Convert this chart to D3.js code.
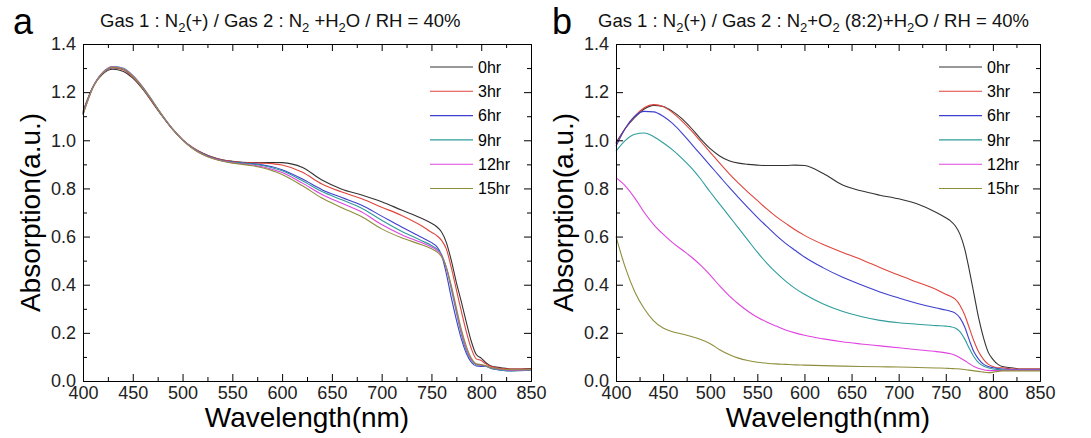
<!DOCTYPE html>
<html>
<head>
<meta charset="utf-8">
<script src="https://cdn.jsdelivr.net/npm/d3@7"></script>
<style>
  body { margin: 0; background: #fff; }
  svg { font-family: "Liberation Sans", Arial, sans-serif; }
  .axis path, .axis line { stroke: #000; }
  .axis text { font-size: 18px; fill: #222; }
</style>
</head>
<body>
<svg width="1091" height="438"></svg>
<script>
(function(d3) {
  'use strict';

  // wavelength grid (nm), shared by all curves
  const wavelengths = [400, 410, 420, 430, 440, 450, 460, 470, 480, 490, 500, 510, 520, 530, 540, 550,
    560, 570, 580, 590, 600, 620, 640, 660, 680, 700, 720, 740, 750, 755, 760, 765, 770, 775, 780,
    785, 790, 795, 800, 805, 810, 820, 830, 840, 850];

  const hours = ['0hr', '3hr', '6hr', '9hr', '12hr', '15hr'];
  const colors = ['#333333', '#e0443c', '#3f3fcf', '#2f9c9c', '#e044e0', '#8e8e3c'];

  // panel a : N2 + H2O
  const a0 = [1.12, 1.222, 1.276, 1.295, 1.287, 1.258, 1.212, 1.155, 1.098, 1.045, 1.002, 0.970, 0.947, 0.930, 0.919, 0.913,
    0.909, 0.907, 0.907, 0.908, 0.907, 0.888, 0.835, 0.797, 0.773, 0.745, 0.710, 0.676, 0.655, 0.642, 0.62, 0.575, 0.5, 0.41, 0.33,
    0.245, 0.165, 0.11, 0.095, 0.075, 0.062, 0.055, 0.05, 0.05, 0.052];
  const a3 = [1.115, 1.222, 1.28, 1.300, 1.293, 1.262, 1.215, 1.157, 1.1, 1.046, 1.003, 0.970, 0.946, 0.929, 0.918, 0.912,
    0.908, 0.906, 0.905, 0.903, 0.897, 0.868, 0.818, 0.785, 0.757, 0.722, 0.688, 0.645, 0.618, 0.605, 0.585, 0.548, 0.47, 0.38, 0.29,
    0.205, 0.135, 0.092, 0.085, 0.07, 0.06, 0.052, 0.05, 0.05, 0.05];
  const a6 = [1.112, 1.22, 1.28, 1.302, 1.296, 1.266, 1.218, 1.16, 1.1, 1.046, 1.002, 0.968, 0.944, 0.927, 0.916, 0.91,
    0.906, 0.903, 0.898, 0.89, 0.878, 0.84, 0.795, 0.762, 0.73, 0.685, 0.64, 0.597, 0.575, 0.56, 0.525, 0.445, 0.345, 0.255, 0.175,
    0.115, 0.078, 0.062, 0.06, 0.06, 0.052, 0.045, 0.042, 0.045, 0.045];
  const a9 = [1.11, 1.222, 1.283, 1.306, 1.3, 1.27, 1.222, 1.163, 1.103, 1.048, 1.003, 0.968, 0.943, 0.926, 0.915, 0.909,
    0.905, 0.901, 0.895, 0.886, 0.873, 0.833, 0.787, 0.753, 0.718, 0.668, 0.622, 0.583, 0.563, 0.55, 0.527, 0.47, 0.38, 0.285, 0.195,
    0.125, 0.085, 0.067, 0.065, 0.06, 0.052, 0.045, 0.042, 0.043, 0.045];
  const a12 = [1.108, 1.22, 1.282, 1.305, 1.298, 1.268, 1.22, 1.161, 1.101, 1.047, 1.002, 0.967, 0.942, 0.925, 0.914, 0.907,
    0.902, 0.897, 0.89, 0.88, 0.866, 0.823, 0.775, 0.738, 0.702, 0.65, 0.608, 0.575, 0.557, 0.545, 0.522, 0.47, 0.39, 0.295, 0.205,
    0.135, 0.09, 0.07, 0.066, 0.062, 0.055, 0.048, 0.045, 0.045, 0.047];
  const a15 = [1.105, 1.218, 1.28, 1.303, 1.296, 1.266, 1.218, 1.16, 1.1, 1.046, 1.001, 0.966, 0.941, 0.924, 0.913, 0.905,
    0.9, 0.894, 0.886, 0.874, 0.858, 0.812, 0.76, 0.72, 0.682, 0.632, 0.595, 0.566, 0.549, 0.538, 0.517, 0.472, 0.395, 0.305, 0.215,
    0.145, 0.095, 0.072, 0.068, 0.063, 0.056, 0.05, 0.047, 0.047, 0.048];

  // panel b : N2 + O2 (8:2) + H2O
  const b0 = [0.99, 1.05, 1.095, 1.13, 1.145, 1.14, 1.12, 1.09, 1.05, 1.005, 0.965, 0.935, 0.915, 0.905, 0.9, 0.897,
    0.895, 0.895, 0.895, 0.897, 0.895, 0.862, 0.815, 0.79, 0.772, 0.757, 0.735, 0.7, 0.678, 0.665, 0.645, 0.61, 0.55, 0.46, 0.36,
    0.26, 0.18, 0.12, 0.09, 0.07, 0.06, 0.055, 0.05, 0.05, 0.05];
  const b3 = [0.985, 1.05, 1.1, 1.135, 1.148, 1.14, 1.115, 1.08, 1.04, 0.995, 0.95, 0.905, 0.862, 0.822, 0.785, 0.75,
    0.715, 0.683, 0.655, 0.628, 0.605, 0.567, 0.535, 0.505, 0.472, 0.44, 0.41, 0.38, 0.36, 0.352, 0.34, 0.315, 0.275, 0.22, 0.165,
    0.12, 0.09, 0.07, 0.06, 0.055, 0.055, 0.05, 0.05, 0.05, 0.05];
  const b6 = [0.975, 1.05, 1.1, 1.12, 1.118, 1.1, 1.07, 1.03, 0.985, 0.94, 0.895, 0.85, 0.805, 0.762, 0.72, 0.68,
    0.642, 0.605, 0.572, 0.543, 0.515, 0.47, 0.432, 0.4, 0.37, 0.345, 0.322, 0.303, 0.295, 0.29, 0.282, 0.262, 0.225, 0.17, 0.12,
    0.09, 0.07, 0.06, 0.055, 0.052, 0.05, 0.048, 0.048, 0.048, 0.048];
  const b9 = [0.955, 1.0, 1.025, 1.03, 1.015, 0.99, 0.96, 0.925, 0.885, 0.838, 0.785, 0.735, 0.685, 0.635, 0.585, 0.535,
    0.49, 0.45, 0.415, 0.385, 0.36, 0.32, 0.29, 0.268, 0.252, 0.242, 0.236, 0.23, 0.228, 0.226, 0.22, 0.205, 0.175, 0.135, 0.1,
    0.075, 0.062, 0.055, 0.05, 0.048, 0.047, 0.046, 0.046, 0.046, 0.046];
  const b12 = [0.845, 0.81, 0.76, 0.7, 0.65, 0.61, 0.575, 0.545, 0.515, 0.48, 0.44, 0.395, 0.355, 0.32, 0.29, 0.265,
    0.245, 0.228, 0.212, 0.2, 0.19, 0.175, 0.163, 0.154, 0.146, 0.138, 0.13, 0.122, 0.117, 0.113, 0.107, 0.097, 0.085, 0.072, 0.06,
    0.052, 0.047, 0.044, 0.043, 0.043, 0.044, 0.045, 0.045, 0.045, 0.045];
  const b15 = [0.6, 0.47, 0.37, 0.3, 0.25, 0.22, 0.205, 0.195, 0.185, 0.172, 0.155, 0.13, 0.11, 0.095, 0.085, 0.078,
    0.074, 0.071, 0.069, 0.067, 0.066, 0.064, 0.062, 0.06, 0.059, 0.058, 0.056, 0.054, 0.053, 0.052, 0.051, 0.05, 0.048, 0.045, 0.042,
    0.04, 0.037, 0.035, 0.036, 0.04, 0.042, 0.042, 0.042, 0.042, 0.042];

  const xTicks = [400, 450, 500, 550, 600, 650, 700, 750, 800, 850];
  const yTicks = [0, 0.2, 0.4, 0.6, 0.8, 1.0, 1.2, 1.4];

  const panels = [
    {letter: 'a', left: 83, right: 531, series: [a0, a3, a6, a9, a12, a15],
      title: [['Gas 1 : N'], ['2', 'sub'], ['(+) / Gas 2 : N'], ['2', 'sub'], [' +H'], ['2', 'sub'], ['O / RH = 40%']],
      titleX: 100, letterX: 13},
    {letter: 'b', left: 616, right: 1040, series: [b0, b3, b6, b9, b12, b15],
      title: [['Gas 1 : N'], ['2', 'sub'], ['(+) / Gas 2 : N'], ['2', 'sub'], ['+O'], ['2', 'sub'], [' (8:2)+H'], ['2', 'sub'], ['O / RH = 40%']],
      titleX: 598, letterX: 552},
  ];
  const top = 44;
  const bottom = 381;

  const svg = d3.select('svg');

  panels.forEach(function(p) {
    const x = d3.scaleLinear().domain([400, 850]).range([p.left, p.right]);
    const y = d3.scaleLinear().domain([0, 1.4]).range([bottom, top]);
    const g = svg.append('g');

    // curves
    const line = d3.line()
        .x((d, i) => x(wavelengths[i]))
        .y((d) => y(d))
        .curve(d3.curveMonotoneX);
    g.selectAll('path.curve').data(p.series).enter()
        .append('path')
        .attr('class', 'curve')
        .attr('fill', 'none')
        .attr('stroke', (d, i) => colors[i])
        .attr('stroke-width', 1.1)
        .attr('d', line);

    // axes with inward ticks
    const minorX = d3.range(425, 850, 50);
    const minorY = d3.range(0.1, 1.4, 0.2);

    g.append('g').attr('class', 'axis').attr('transform', `translate(0,${bottom})`)
        .call(d3.axisBottom(x).tickValues(xTicks).tickSize(-7).tickSizeOuter(0).tickPadding(5));
    g.append('g').attr('class', 'axis').attr('transform', `translate(0,${bottom})`)
        .call(d3.axisBottom(x).tickValues(minorX).tickSize(-4).tickSizeOuter(0).tickFormat(''));
    g.append('g').attr('class', 'axis').attr('transform', `translate(0,${top})`)
        .call(d3.axisTop(x).tickValues(xTicks).tickSize(-7).tickSizeOuter(0).tickFormat(''));
    g.append('g').attr('class', 'axis').attr('transform', `translate(0,${top})`)
        .call(d3.axisTop(x).tickValues(minorX).tickSize(-4).tickSizeOuter(0).tickFormat(''));

    g.append('g').attr('class', 'axis').attr('transform', `translate(${p.left},0)`)
        .call(d3.axisLeft(y).tickValues(yTicks).tickSize(-7).tickSizeOuter(0).tickPadding(7).tickFormat(d3.format('.1f')));
    g.append('g').attr('class', 'axis').attr('transform', `translate(${p.left},0)`)
        .call(d3.axisLeft(y).tickValues(minorY).tickSize(-4).tickSizeOuter(0).tickFormat(''));
    g.append('g').attr('class', 'axis').attr('transform', `translate(${p.right},0)`)
        .call(d3.axisRight(y).tickValues(yTicks).tickSize(-7).tickSizeOuter(0).tickFormat(''));
    g.append('g').attr('class', 'axis').attr('transform', `translate(${p.right},0)`)
        .call(d3.axisRight(y).tickValues(minorY).tickSize(-4).tickSizeOuter(0).tickFormat(''));

    // axis titles
    g.append('text')
        .attr('x', (p.left + p.right) / 2)
        .attr('y', 427)
        .attr('text-anchor', 'middle')
        .style('font-size', '28px')
        .text('Wavelength(nm)');
    g.append('text')
        .attr('transform', `translate(${p.left - 43},${(top + bottom) / 2}) rotate(-90)`)
        .attr('text-anchor', 'middle')
        .style('font-size', '28px')
        .text('Absorption(a.u.)');

    // panel letter and title
    g.append('text')
        .attr('x', p.letterX)
        .attr('y', 34)
        .style('font-size', '36px')
        .text(p.letter);
    const title = g.append('text')
        .attr('x', p.titleX)
        .attr('y', 27)
        .style('font-size', '18.5px')
        .attr('fill', '#111');
    p.title.forEach(function(part, i) {
      const t = title.append('tspan').text(part[0]);
      if (part[1] === 'sub') {
        t.attr('dy', 5).style('font-size', '13px');
      } else if (i > 0) {
        t.attr('dy', -5);
      }
    });

    // legend
    const legend = g.append('g');
    hours.forEach(function(h, i) {
      const ly = 67 + i * 24.3;
      legend.append('line')
          .attr('x1', p.right - 101).attr('x2', p.right - 58)
          .attr('y1', ly).attr('y2', ly)
          .attr('stroke', colors[i])
          .attr('stroke-width', 1.1);
      legend.append('text')
          .attr('x', p.right - 53)
          .attr('y', ly)
          .attr('dy', '0.35em')
          .style('font-size', '16px')
          .text(h);
    });
  });
}(d3));
</script>
</body>
</html>
